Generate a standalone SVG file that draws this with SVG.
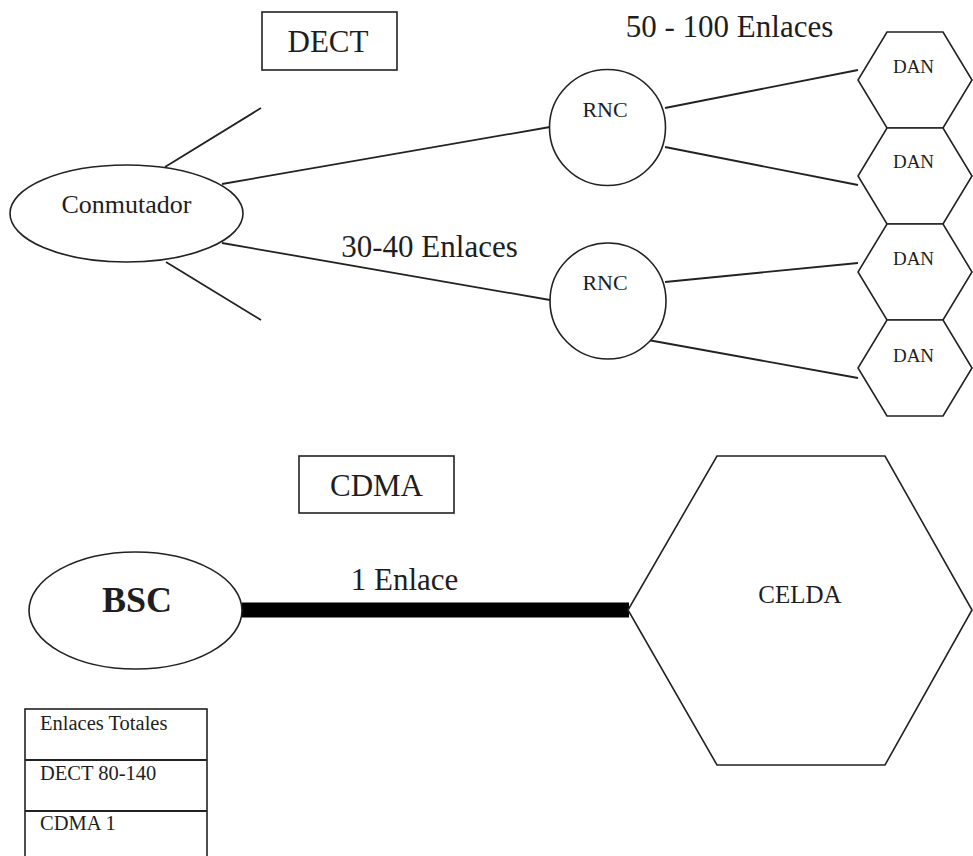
<svg xmlns="http://www.w3.org/2000/svg" width="973" height="856" viewBox="0 0 973 856">
  <style>
    .shape { fill: #ffffff; stroke: #222222; stroke-width: 1.6; }
    .link { stroke: #222222; stroke-width: 1.8; fill: none; }
    .thick { stroke: #000000; stroke-width: 15; fill: none; }
    text { font-family: "Liberation Serif", "Times New Roman", serif; fill: #1e1e1e; }
    .mid { text-anchor: middle; }
    .lbl { font-size: 31px; }
    .title { font-size: 31px; }
    .rnc { font-size: 22px; }
    .dan { font-size: 19px; }
    .cell { font-size: 20.5px; }
  </style>
  <defs>
    <!-- flat-topped hexagon, local origin at its top-left vertex of the top edge -->
    <polygon id="hexSmall" points="29,0 85,0 114,48 85,96 29,96 0,48"/>
  </defs>
  <rect width="973" height="856" fill="#ffffff"/>

  <!-- connectors -->
  <g id="connectors">
    <line class="link" x1="165" y1="167" x2="261" y2="108"/>
    <line class="link" x1="166" y1="262" x2="261" y2="320"/>
    <line class="link" x1="222" y1="184" x2="550" y2="127"/>
    <line class="link" x1="222" y1="243" x2="550" y2="300"/>
    <line class="link" x1="665" y1="108" x2="858" y2="70"/>
    <line class="link" x1="665" y1="147" x2="858" y2="185"/>
    <line class="link" x1="665" y1="282" x2="858" y2="263"/>
    <line class="link" x1="648" y1="340" x2="858" y2="378"/>
    <line class="thick" x1="242" y1="610" x2="629" y2="610"/>
    <text class="lbl mid" x="729.5" y="37">50 - 100 Enlaces</text>
    <text class="lbl mid" x="429.5" y="257">30-40 Enlaces</text>
    <text class="lbl mid" x="404.5" y="590">1 Enlace</text>
  </g>

  <g id="dect-title">
    <rect class="shape" x="262" y="12" width="135" height="58"/>
    <text class="title mid" x="328" y="52">DECT</text>
  </g>

  <g id="conmutador">
    <ellipse class="shape" cx="126.5" cy="213.5" rx="116.5" ry="48.5"/>
    <text class="mid" x="126.5" y="213" font-size="26">Conmutador</text>
  </g>

  <g id="rnc-1">
    <circle class="shape" cx="607.5" cy="127.5" r="58"/>
    <text class="rnc mid" x="605" y="117">RNC</text>
  </g>
  <g id="rnc-2">
    <circle class="shape" cx="608" cy="301" r="58"/>
    <text class="rnc mid" x="605" y="290">RNC</text>
  </g>

  <g id="dan-1">
    <use href="#hexSmall" x="858" y="32" class="shape"/>
    <text class="dan mid" x="913.5" y="73">DAN</text>
  </g>
  <g id="dan-2">
    <use href="#hexSmall" x="858" y="128" class="shape"/>
    <text class="dan mid" x="913.5" y="168">DAN</text>
  </g>
  <g id="dan-3">
    <use href="#hexSmall" x="858" y="224" class="shape"/>
    <text class="dan mid" x="913.5" y="265">DAN</text>
  </g>
  <g id="dan-4">
    <use href="#hexSmall" x="858" y="320" class="shape"/>
    <text class="dan mid" x="913.5" y="362">DAN</text>
  </g>

  <g id="cdma-title">
    <rect class="shape" x="299" y="456" width="155" height="57"/>
    <text class="title mid" x="376.5" y="496">CDMA</text>
  </g>

  <g id="bsc">
    <ellipse class="shape" cx="135.5" cy="610.5" rx="106.5" ry="58.5"/>
    <text class="mid" x="137" y="612" font-size="36" font-weight="bold">BSC</text>
  </g>

  <g id="celda">
    <polygon class="shape" points="717,456 885,456 972,610 885,765 717,765 628,610"/>
    <text class="mid" x="800" y="603" font-size="25">CELDA</text>
  </g>

  <g id="totals-table">
    <rect class="shape" x="25" y="709" width="182" height="153"/>
    <line class="link" x1="25" y1="760" x2="207" y2="760" stroke-width="1.6"/>
    <line class="link" x1="25" y1="811" x2="207" y2="811" stroke-width="1.6"/>
    <text class="cell" x="40" y="730">Enlaces Totales</text>
    <text class="cell" x="40" y="780">DECT 80-140</text>
    <text class="cell" x="40" y="830">CDMA 1</text>
  </g>
</svg>
